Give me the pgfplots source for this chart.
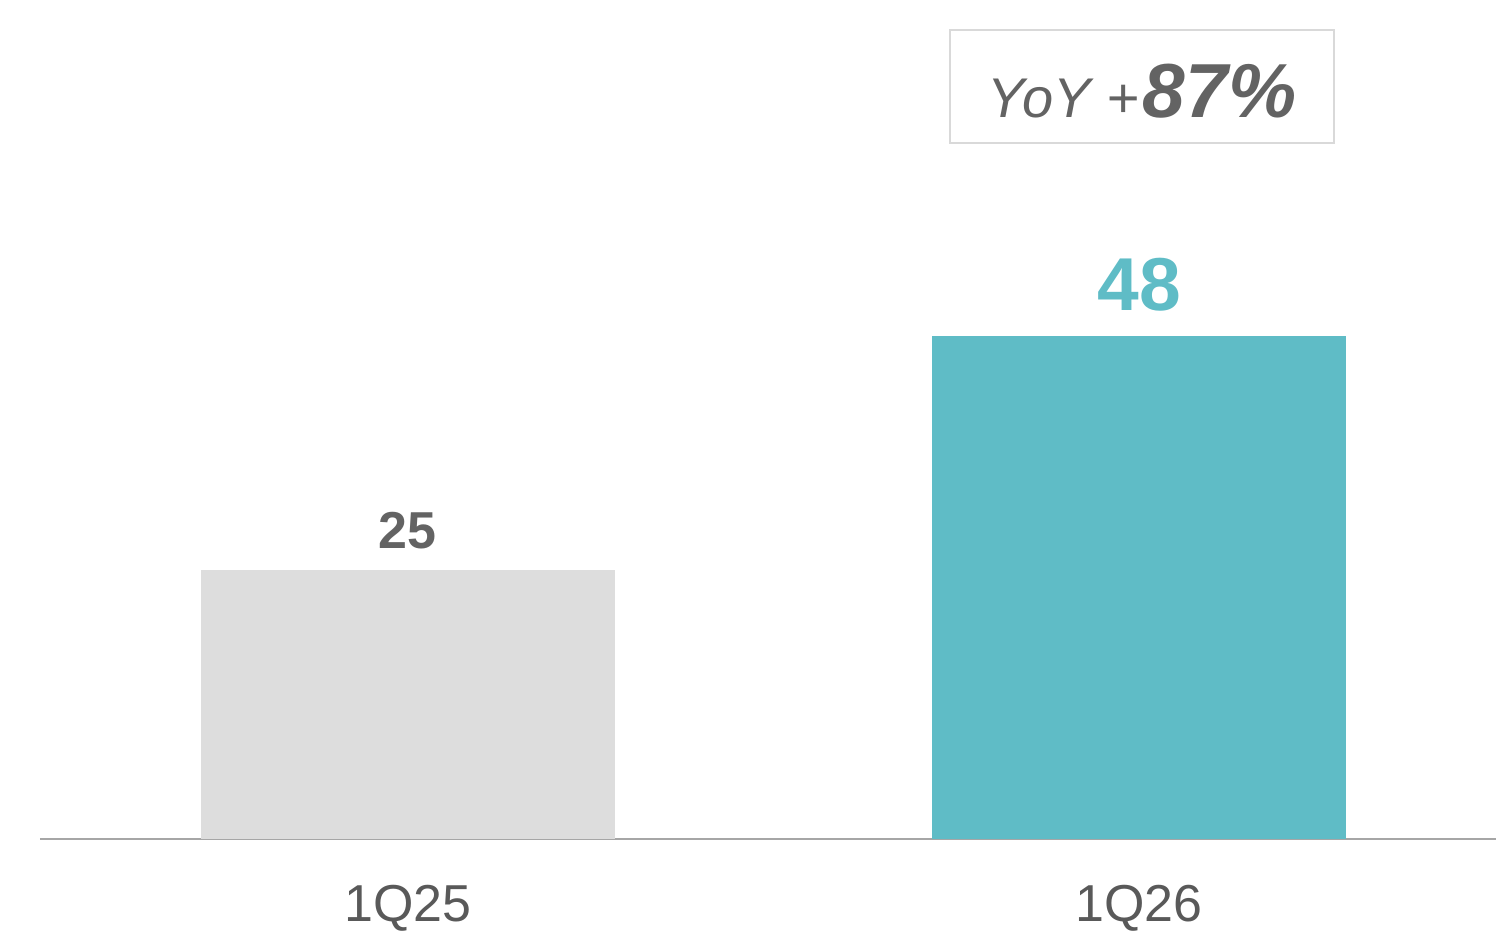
\documentclass[border=0pt]{standalone}
\usepackage{pgfplots}
\pgfplotsset{compat=1.18}
\usepackage{fontspec}
\setmainfont{Liberation Sans}
\definecolor{barA}{HTML}{DDDDDD}
\definecolor{barB}{HTML}{5FBCC6}
\definecolor{txt}{HTML}{636363}
\definecolor{tick}{HTML}{595959}
\definecolor{axl}{HTML}{A6A6A6}
\definecolor{boxc}{HTML}{D9D9D9}
\begin{document}
\begin{tikzpicture}
\path (0,0) rectangle (449.1pt,279.6pt);
\begin{axis}[
  at={(12pt,27.6pt)}, anchor=south west,
  width=437.1pt, height=252pt, scale only axis,
  xmin=-0.503, xmax=1.488, ymin=0, ymax=80.1,
  axis y line=none,
  axis x line*=bottom,
  x axis line style={draw=axl, line width=0.6pt, -},
  xtick={0,1}, xticklabels={1Q25,1Q26},
  major tick length=0pt,
  xticklabel style={font=\fontsize{15.6}{18}\selectfont, text=tick, anchor=base, yshift=-24.6pt, inner sep=0pt},
  ybar, bar width=124.2pt, bar shift=0pt,
  clip=false,
  nodes near coords,
  point meta=explicit symbolic,
]
\addplot[fill=barA, draw=none,
  every node near coord/.append style={font=\bfseries\fontsize{15.6}{18}\selectfont, text=txt, anchor=base, inner sep=0pt, yshift=6.6pt}]
  coordinates {(0,25.7) [25]};
\addplot[fill=barB, draw=none,
  every node near coord/.append style={font=\bfseries\fontsize{22.5}{26}\selectfont, text=barB, anchor=base, inner sep=0pt, yshift=7.8pt}]
  coordinates {(1,48) [48]};
\draw[boxc, line width=0.6pt] (axis cs:0.742,66.5) rectangle (axis cs:1.266,77.2);
\node[anchor=base, text=txt, inner sep=0pt] at (axis cs:1.004,68.9)
  {\itshape\fontsize{16.8}{20}\selectfont YoY +\kern1.2pt\bfseries\fontsize{23}{28}\selectfont 87\%};
\end{axis}
\end{tikzpicture}
\end{document}
